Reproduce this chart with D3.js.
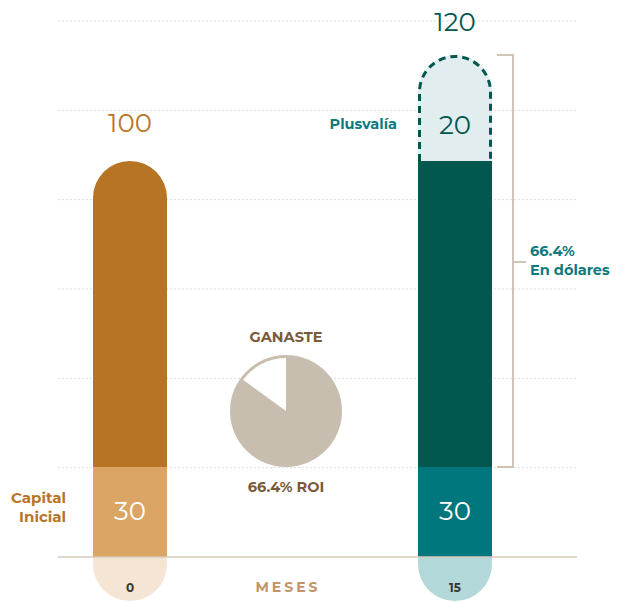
<!DOCTYPE html>
<html>
<head>
<meta charset="utf-8">
<script src="https://cdn.jsdelivr.net/npm/d3@7"></script>
<style>
  html, body { margin: 0; padding: 0; background: #fff; }
  svg { display: block; }
</style>
</head>
<body>
<script>
// chart data
const meses = ['0', '15']
const capitalInicial = [30, 30]
const valorBase = [100, 100]
const plusvalia = [0, 20]
const totales = [100, 120]
const gridTicks = [0, 1, 2, 3, 4, 5, 6]
const pieValues = [85, 15]
const roiLabel = '66.4% ROI'
const bracketLabel = ['66.4%', 'En dólares']

const width = 617
const height = 602
const barW = 74
const r = barW / 2
const font = 'Montserrat, "Open Sans", sans-serif'

const svg = d3.select('body').append('svg')
  .attr('width', width)
  .attr('height', height)

// scales
const x = d3.scalePoint().domain(meses).range([130, 455])
const y = d3.scaleLinear().domain([0, 30, 100, 120]).range([557, 467, 161, 55])
const grid = d3.scaleLinear().domain([0, 6]).range([557, 21])

// gridlines
svg.append('g')
  .selectAll('line')
  .data(gridTicks.slice(1))
  .join('line')
  .attr('x1', 58).attr('x2', 577)
  .attr('y1', d => grid(d)).attr('y2', d => grid(d))
  .style('stroke', '#dcdcdc')
  .style('stroke-width', 1)
  .style('stroke-dasharray', '2,2')

// rounded-top path
const roundTop = (cx, yTop, yBot, rad, closed) => {
  const x0 = cx - rad
  const x1 = cx + rad
  let p = 'M' + x0 + ',' + yBot + 'V' + (yTop + rad) +
    'A' + rad + ',' + rad + ' 0 0 1 ' + x1 + ',' + (yTop + rad) + 'V' + yBot
  return closed ? p + 'Z' : p
}
const roundBottom = (cx, yTop, yBot) => {
  const x0 = cx - r, x1 = cx + r
  return 'M' + x0 + ',' + yTop + 'V' + (yBot - r) +
    'A' + r + ',' + r + ' 0 0 0 ' + x1 + ',' + (yBot - r) + 'V' + yTop + 'Z'
}

const colors = {
  top: ['#b87425', '#02574f'],
  base: ['#dba566', '#00777c'],
  cap: ['#f5e5d4', '#b3d8da'],
  label: ['#b87425', '#02574f']
}

meses.forEach((m, i) => {
  const cx = x(m)
  const g = svg.append('g')
  // bottom caps below baseline
  g.append('path')
    .attr('d', roundBottom(cx, y(0), 601))
    .style('fill', colors.cap[i])
  // capital inicial segment
  g.append('rect')
    .attr('x', cx - r).attr('width', barW)
    .attr('y', y(capitalInicial[i])).attr('height', y(0) - y(capitalInicial[i]))
    .style('fill', colors.base[i])
  // main segment
  if (plusvalia[i] > 0) {
    g.append('rect')
      .attr('x', cx - r).attr('width', barW)
      .attr('y', y(valorBase[i])).attr('height', y(capitalInicial[i]) - y(valorBase[i]))
      .style('fill', colors.top[i])
    // dashed plusvalia part
    g.append('path')
      .attr('d', roundTop(cx, y(valorBase[i] + plusvalia[i]), y(valorBase[i]), r, true))
      .style('fill', '#e1edee')
    g.append('path')
      .attr('d', roundTop(cx, y(valorBase[i] + plusvalia[i]) + 1.5, y(valorBase[i]), r - 1.5, false))
      .style('fill', 'none')
      .style('stroke', '#02574f')
      .style('stroke-width', 3)
      .style('stroke-dasharray', '7,5')
    g.append('text')
      .attr('x', cx).attr('y', (y(valorBase[i]) + y(valorBase[i] + plusvalia[i])) / 2 + 26)
      .attr('text-anchor', 'middle')
      .style('font-family', font).style('font-size', '26px').style('font-weight', 400)
      .style('fill', '#02574f')
      .text(plusvalia[i])
  } else {
    g.append('path')
      .attr('d', roundTop(cx, y(valorBase[i]), y(capitalInicial[i]), r, true))
      .style('fill', colors.top[i])
  }
  // base value label
  g.append('text')
    .attr('x', cx).attr('y', (y(0) + y(capitalInicial[i])) / 2 + 8)
    .attr('text-anchor', 'middle')
    .style('font-family', font).style('font-size', '26px').style('font-weight', 400)
    .style('fill', '#fff')
    .text(capitalInicial[i])
  // total label
  const topY = y(valorBase[i] + plusvalia[i])
  g.append('text')
    .attr('x', cx).attr('y', i === 0 ? topY - 29 : topY - 24)
    .attr('text-anchor', 'middle')
    .style('font-family', font).style('font-size', '26px').style('font-weight', 400)
    .style('fill', colors.label[i])
    .text(totales[i])
  // month label
  g.append('text')
    .attr('x', cx).attr('y', 592)
    .attr('text-anchor', 'middle')
    .style('font-family', font).style('font-size', '12px').style('font-weight', 700)
    .style('fill', '#3a3530')
    .text(m)
})

// baseline
svg.append('line')
  .attr('x1', 58).attr('x2', 577)
  .attr('y1', y(0)).attr('y2', y(0))
  .style('stroke', '#d6cabd')
  .style('stroke-width', 1.5)

// bracket
const bx = 513
svg.append('path')
  .attr('d', 'M497,' + y(120) + 'H' + bx + 'V' + y(30) + 'H497M' + bx + ',' + 262 + 'H526')
  .style('fill', 'none')
  .style('stroke', '#cfc4b5')
  .style('stroke-width', 2)

svg.append('text')
  .attr('x', 530).attr('y', 256)
  .style('font-family', font).style('font-size', '14.5px').style('font-weight', 700)
  .style('fill', '#0f7a7d')
  .selectAll('tspan')
  .data(bracketLabel)
  .join('tspan')
  .attr('x', 530)
  .attr('dy', (d, i) => i ? 19 : 0)
  .text(d => d)

svg.append('text')
  .attr('x', 397).attr('y', 129)
  .attr('text-anchor', 'end')
  .style('font-family', font).style('font-size', '14.5px').style('font-weight', 700)
  .style('fill', '#0f7a7d')
  .text('Plusvalía')

svg.append('text')
  .attr('y', 503)
  .attr('text-anchor', 'end')
  .style('font-family', font).style('font-size', '15px').style('font-weight', 700)
  .style('fill', '#b87425')
  .selectAll('tspan')
  .data(['Capital', 'Inicial'])
  .join('tspan')
  .attr('x', 66)
  .attr('dy', (d, i) => i ? 19 : 0)
  .text(d => d)

svg.append('text')
  .attr('x', 288).attr('y', 592)
  .attr('text-anchor', 'middle')
  .style('font-family', font).style('font-size', '14px').style('font-weight', 700)
  .style('letter-spacing', '3px')
  .style('fill', '#c29467')
  .text('MESES')

// pie
const pcx = 286, pcy = 411, pr = 56
const pg = svg.append('g').attr('transform', 'translate(' + pcx + ',' + pcy + ')')
pg.append('circle').attr('r', pr).style('fill', '#c8beb0')
const arcs = d3.pie().sort(null)(pieValues)
pg.append('path')
  .attr('d', d3.arc().innerRadius(0).outerRadius(pr - 3)(arcs[1]))
  .style('fill', '#fff')

svg.append('text')
  .attr('x', pcx).attr('y', 342)
  .attr('text-anchor', 'middle')
  .style('font-family', font).style('font-size', '14.5px').style('font-weight', 700)
  .style('fill', '#7a5a38')
  .text('GANASTE')

svg.append('text')
  .attr('x', pcx).attr('y', 492)
  .attr('text-anchor', 'middle')
  .style('font-family', font).style('font-size', '14.5px').style('font-weight', 700)
  .style('fill', '#7a5a38')
  .text(roiLabel)
</script>
</body>
</html>
